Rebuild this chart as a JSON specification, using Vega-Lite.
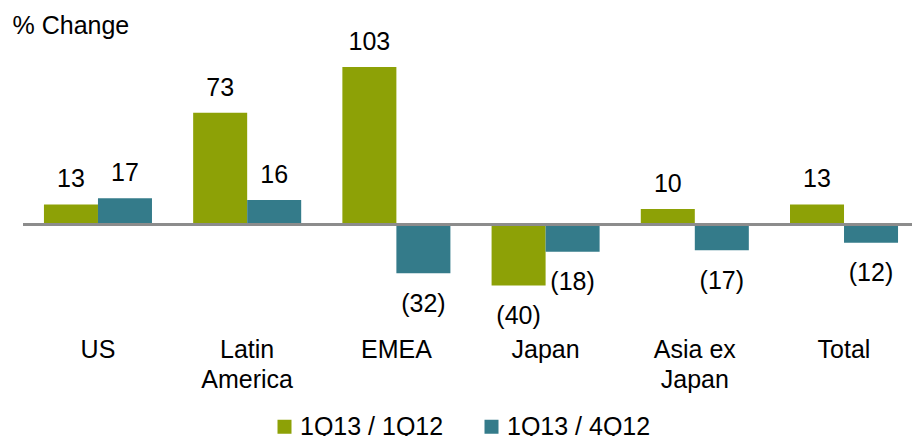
{
  "$schema": "https://vega.github.io/schema/vega-lite/v6.json",
  "autosize": "none",
  "width": 889,
  "height": 275,
  "padding": {"left": 23, "top": 41, "right": 0, "bottom": 120},
  "background": "white",
  "data": {
    "values": [
      {"region": "US", "series": "1Q13 / 1Q12", "value": 13},
      {"region": "US", "series": "1Q13 / 4Q12", "value": 17},
      {"region": "Latin America", "series": "1Q13 / 1Q12", "value": 73},
      {"region": "Latin America", "series": "1Q13 / 4Q12", "value": 16},
      {"region": "EMEA", "series": "1Q13 / 1Q12", "value": 103},
      {"region": "EMEA", "series": "1Q13 / 4Q12", "value": -32},
      {"region": "Japan", "series": "1Q13 / 1Q12", "value": -40},
      {"region": "Japan", "series": "1Q13 / 4Q12", "value": -18},
      {"region": "Asia ex Japan", "series": "1Q13 / 1Q12", "value": 10},
      {"region": "Asia ex Japan", "series": "1Q13 / 4Q12", "value": -17},
      {"region": "Total", "series": "1Q13 / 1Q12", "value": 13},
      {"region": "Total", "series": "1Q13 / 4Q12", "value": -12}
    ]
  },
  "encoding": {
    "x": {
      "field": "region",
      "type": "nominal",
      "sort": null,
      "scale": {"paddingInner": 0.276, "paddingOuter": 0.117, "align": 0.6},
      "axis": {
        "title": null,
        "orient": "bottom",
        "domain": false,
        "ticks": false,
        "tickSize": 0,
        "labelAngle": 0,
        "labelPadding": 21,
        "labelBaseline": "top",
        "labelFont": "Liberation Sans",
        "labelFontSize": 25,
        "labelColor": "#000000",
        "labelLineHeight": 30,
        "labelOverlap": false,
        "labelBound": false,
        "labelExpr": "datum.label == 'Latin America' ? ['Latin', 'America'] : datum.label == 'Asia ex Japan' ? ['Asia ex', 'Japan'] : datum.label"
      }
    },
    "xOffset": {
      "field": "series",
      "type": "nominal",
      "scale": {"paddingInner": 0, "paddingOuter": 0}
    },
    "y": {
      "field": "value",
      "type": "quantitative",
      "scale": {"domain": [-60, 120], "nice": false, "zero": true},
      "axis": {
        "title": "% Change",
        "orient": "left",
        "domain": false,
        "ticks": false,
        "labels": false,
        "grid": false,
        "titleAngle": 0,
        "titleAlign": "left",
        "titleBaseline": "alphabetic",
        "titleX": -11,
        "titleY": -8,
        "titleFont": "Liberation Sans",
        "titleFontSize": 25,
        "titleFontWeight": "normal",
        "titleColor": "#000000"
      }
    }
  },
  "layer": [
    {
      "mark": {"type": "bar"},
      "encoding": {
        "color": {
          "field": "series",
          "type": "nominal",
          "scale": {"domain": ["1Q13 / 1Q12", "1Q13 / 4Q12"], "range": ["#8da106", "#347b8a"]},
          "legend": {
            "title": null,
            "orient": "none",
            "direction": "horizontal",
            "legendX": 249,
            "legendY": 373,
            "padding": 0,
            "symbolType": "square",
            "symbolSize": 196,
            "symbolStrokeWidth": 0,
            "labelFont": "Liberation Sans",
            "labelFontSize": 25,
            "labelColor": "#000000",
            "labelOffset": 3,
            "columnPadding": 35,
            "labelLimit": 300
          }
        }
      }
    },
    {
      "mark": {"type": "rule", "color": "#8c8c8c", "strokeWidth": 2.2},
      "encoding": {"x": null, "xOffset": null, "y": {"datum": 0}}
    },
    {
      "transform": [{"filter": "datum.value >= 0"}],
      "mark": {"type": "text", "font": "Liberation Sans", "fontSize": 25, "color": "#000000", "baseline": "alphabetic", "dy": -17},
      "encoding": {"text": {"field": "value", "type": "quantitative", "format": "(d"}}
    },
    {
      "transform": [{"filter": "datum.value < 0"}],
      "mark": {"type": "text", "font": "Liberation Sans", "fontSize": 25, "color": "#000000", "baseline": "alphabetic", "dy": 38.5},
      "encoding": {"text": {"field": "value", "type": "quantitative", "format": "(d"}}
    }
  ],
  "config": {"view": {"stroke": null}}
}
